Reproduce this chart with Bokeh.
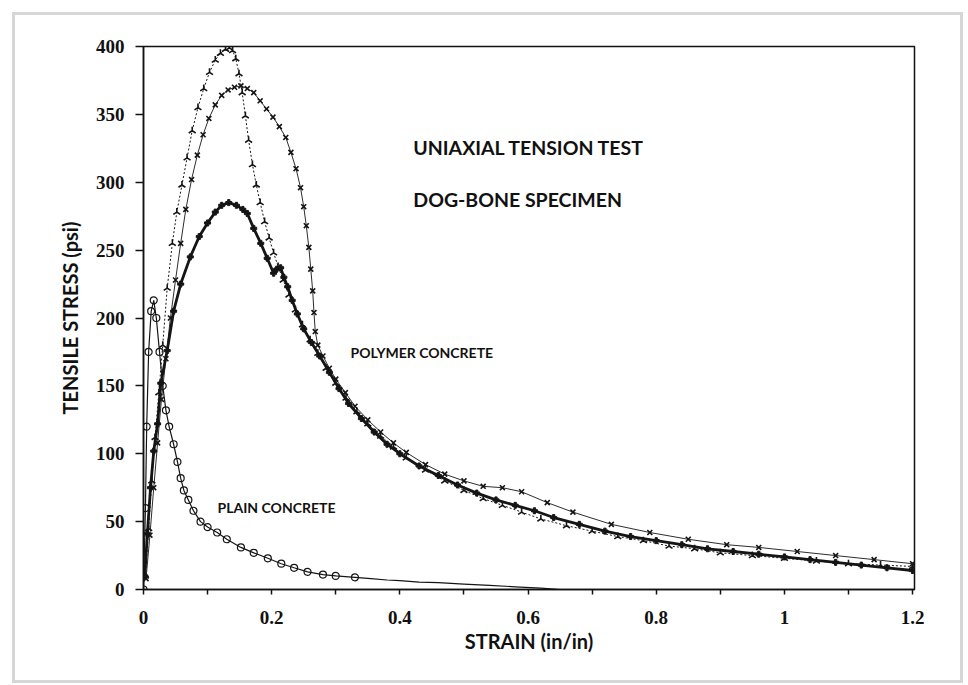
import numpy as np
from bokeh.plotting import figure
from bokeh.models import Range1d, Label, FixedTicker
from bokeh.embed import file_html
from bokeh.resources import INLINE

# ---------------- data ----------------
x_ticks = [0, 0.2, 0.4, 0.6, 0.8, 1, 1.2]
x_tick_labels = ["0", "0.2", "0.4", "0.6", "0.8", "1", "1.2"]
x_minor = [0.1, 0.3, 0.5, 0.7, 0.9, 1.1]
y_ticks = [0, 50, 100, 150, 200, 250, 300, 350, 400]

# polymer concrete, specimen A ("^" markers, peak ~398 psi)
a_strain = [0.003, 0.008, 0.013, 0.018, 0.024, 0.030, 0.037, 0.045, 0.052, 0.060,
            0.068, 0.076, 0.085, 0.094, 0.103, 0.112, 0.120, 0.128, 0.134, 0.139,
            0.144, 0.149, 0.154, 0.159, 0.164, 0.170, 0.176, 0.182, 0.189, 0.196,
            0.203, 0.210, 0.218, 0.227, 0.237, 0.248, 0.260, 0.272, 0.285, 0.300,
            0.316, 0.333, 0.350, 0.370, 0.390, 0.41, 0.44, 0.47, 0.50, 0.53,
            0.56, 0.59, 0.62, 0.66, 0.70, 0.74, 0.78, 0.82, 0.86, 0.90,
            0.95, 1.00, 1.05, 1.10, 1.15, 1.20]
a_stress = [10, 45, 80, 112, 145, 180, 222, 255, 278, 298,
            318, 338, 355, 369, 381, 390, 395, 398, 399, 397,
            391, 380, 366, 349, 331, 313, 298, 285, 271, 259,
            248, 238, 228, 217, 206, 195, 184, 174, 163, 152,
            141, 131, 122, 113, 105, 97, 88, 80, 73, 67,
            62, 57, 52, 47, 43, 39, 36, 32, 30, 27,
            25, 23, 21, 19, 18, 17]

# polymer concrete, specimen B ("x" markers, peak ~370 psi)
b_strain = [0.004, 0.010, 0.016, 0.022, 0.028, 0.035, 0.042, 0.050, 0.058, 0.066,
            0.075, 0.084, 0.093, 0.102, 0.112, 0.122, 0.132, 0.142, 0.152, 0.162,
            0.172, 0.182, 0.192, 0.202, 0.212, 0.222, 0.230, 0.238, 0.245, 0.250,
            0.254, 0.258, 0.261, 0.264, 0.266, 0.268, 0.272, 0.280, 0.290, 0.300,
            0.315, 0.330, 0.350, 0.370, 0.390, 0.410, 0.440, 0.470, 0.500, 0.530,
            0.560, 0.590, 0.630, 0.670, 0.730, 0.790, 0.850, 0.910, 0.960, 1.020,
            1.080, 1.140, 1.200]
b_stress = [8, 40, 75, 108, 140, 170, 200, 228, 255, 280,
            302, 320, 335, 347, 357, 364, 368, 370, 371, 369,
            366, 360, 354, 348, 341, 333, 322, 310, 296, 282,
            268, 252, 236, 220, 204, 190, 180, 172, 163, 155,
            145, 135, 125, 116, 108, 101, 92, 85, 80, 76,
            75, 72, 64, 57, 48, 42, 37, 33, 31, 28,
            25, 22, 19]

# polymer concrete, specimen C (solid heavy line, peak ~285 psi)
c_strain = [0.002, 0.006, 0.011, 0.016, 0.022, 0.027, 0.037, 0.047, 0.058, 0.073,
            0.087, 0.100, 0.112, 0.122, 0.133, 0.145, 0.155, 0.162, 0.172, 0.183,
            0.193, 0.203, 0.208, 0.214, 0.219, 0.225, 0.232, 0.240, 0.250, 0.262,
            0.275, 0.290, 0.305, 0.320, 0.340, 0.360, 0.380, 0.400, 0.430, 0.460,
            0.490, 0.520, 0.550, 0.580, 0.610, 0.640, 0.680, 0.720, 0.760, 0.800,
            0.840, 0.880, 0.920, 0.960, 1.000, 1.040, 1.080, 1.120, 1.160, 1.200]
c_stress = [10, 41, 75, 102, 122, 152, 176, 205, 225, 245,
            260, 270, 278, 283, 285, 283, 280, 277, 266, 255,
            244, 233, 236, 237, 230, 223, 213, 203, 192, 182,
            172, 160, 148, 137, 126, 116, 107, 100, 91, 84,
            77, 71, 66, 62, 58, 53, 48, 43, 39, 36,
            33, 30, 28, 26, 24, 22, 20, 18, 16, 14]

# plain concrete (open circles)
plain_strain = [0.000, 0.003, 0.005, 0.008, 0.012, 0.016, 0.020, 0.025, 0.030, 0.035,
                0.040, 0.047, 0.053, 0.058, 0.063, 0.070, 0.078, 0.089, 0.100, 0.115,
                0.130, 0.152, 0.172, 0.194, 0.215, 0.235, 0.256, 0.280, 0.300, 0.330,
                0.355, 0.380, 0.400, 0.430, 0.460, 0.500, 0.540, 0.580, 0.620, 0.650]
plain_stress = [0, 60, 120, 175, 205, 213, 200, 175, 150, 132,
                120, 107, 94, 82, 73, 66, 58, 50, 46, 42,
                37, 31, 27, 23, 19, 16, 13, 11, 10, 9,
                8, 7, 6.5, 5.5, 5, 4, 3, 2, 1, 0]
plain_marked = 30  # circles drawn on the first points only

# ---------------- figure ----------------
LABEL_FONT = "Lato"
TICK_FONT = "Liberation Serif"
ink = "#151515"
frame_grey = "#d6d6d6"

# light page frame drawn behind the (transparent) border area
bg = ", ".join([
    f"linear-gradient({frame_grey},{frame_grey}) 12px 12px / 951px 3px no-repeat",
    f"linear-gradient({frame_grey},{frame_grey}) 12px 680px / 951px 3px no-repeat",
    f"linear-gradient({frame_grey},{frame_grey}) 12px 12px / 3px 671px no-repeat",
    f"linear-gradient({frame_grey},{frame_grey}) 960px 12px / 3px 671px no-repeat",
    "white",
])

p = figure(width=968, height=685, output_backend="svg", toolbar_location=None,
           x_range=Range1d(0, 1.203), y_range=Range1d(0, 400),
           min_border_left=143, min_border_right=54,
           min_border_top=46, min_border_bottom=96,
           styles={"background": bg})
p.background_fill_color = "white"
p.border_fill_alpha = 0
p.xgrid.grid_line_color = None
p.ygrid.grid_line_color = None
p.outline_line_color = "#111111"
p.outline_line_width = 1.5

# axes
xa = p.xaxis[0]
xa.ticker = FixedTicker(ticks=x_ticks, minor_ticks=x_minor)
xa.major_label_overrides = dict(zip(x_ticks, x_tick_labels))
xa.axis_label = "STRAIN (in/in)"
xa.major_tick_in = 0
xa.major_tick_out = 5
xa.minor_tick_in = 0
xa.minor_tick_out = 5
xa.major_label_standoff = 16
xa.axis_label_standoff = 2

ya = p.yaxis[0]
ya.ticker = FixedTicker(ticks=y_ticks)
ya.axis_label = "TENSILE STRESS (psi)"
ya.major_tick_in = 0
ya.major_tick_out = 8
ya.major_label_standoff = 11
ya.axis_label_standoff = 11

for ax in (xa, ya):
    ax.axis_line_color = "#111111"
    ax.axis_line_width = 1.5
    ax.major_tick_line_color = "#111111"
    ax.major_tick_line_width = 1.5
    ax.minor_tick_line_color = "#111111" if ax is xa else None
    ax.minor_tick_line_width = 1.5
    ax.major_label_text_font = TICK_FONT
    ax.major_label_text_font_style = "bold"
    ax.major_label_text_font_size = "19px"
    ax.major_label_text_color = "#111111"
    ax.axis_label_text_font = LABEL_FONT
    ax.axis_label_text_font_style = "bold"
    ax.axis_label_text_font_size = "20px"
    ax.axis_label_text_color = "#111111"

# plain concrete
p.line(plain_strain, plain_stress, line_color=ink, line_width=1.2)
p.scatter(plain_strain[:plain_marked], plain_stress[:plain_marked], marker="circle",
          size=7, fill_alpha=0, line_color=ink, line_width=1.2)

# specimen C: heavy solid line
p.line(c_strain, c_stress, line_color=ink, line_width=2.8)
p.scatter(c_strain, c_stress, marker="plus", size=6, fill_color=ink,
          line_color=ink, line_width=1.0)

# specimen A: dotted line with caret-like markers
p.line(a_strain, a_stress, line_color=ink, line_width=1.0, line_dash="2 2")
p.scatter(a_strain, a_stress, marker="y", angle=np.pi, size=8,
          line_color=ink, line_width=1.6)

# specimen B: thin line with x markers
p.line(b_strain, b_stress, line_color=ink, line_width=0.9)
p.scatter(b_strain, b_stress, marker="x", size=7, line_color=ink, line_width=1.6)

# annotations
def add_label(x, y, text, size):
    p.add_layout(Label(x=x, y=y, text=text, text_font=LABEL_FONT,
                       text_font_style="bold", text_font_size=size,
                       text_color="#111111", text_baseline="alphabetic",
                       text_align="left"))

add_label(0.421, 325.6, "UNIAXIAL TENSION TEST", "19.5px")
add_label(0.421, 287.0, "DOG-BONE SPECIMEN", "19.5px")
add_label(0.323, 174.6, "POLYMER CONCRETE", "14px")
add_label(0.1155, 60.4, "PLAIN CONCRETE", "14px")

open("out.html", "w").write(file_html(p, INLINE))
